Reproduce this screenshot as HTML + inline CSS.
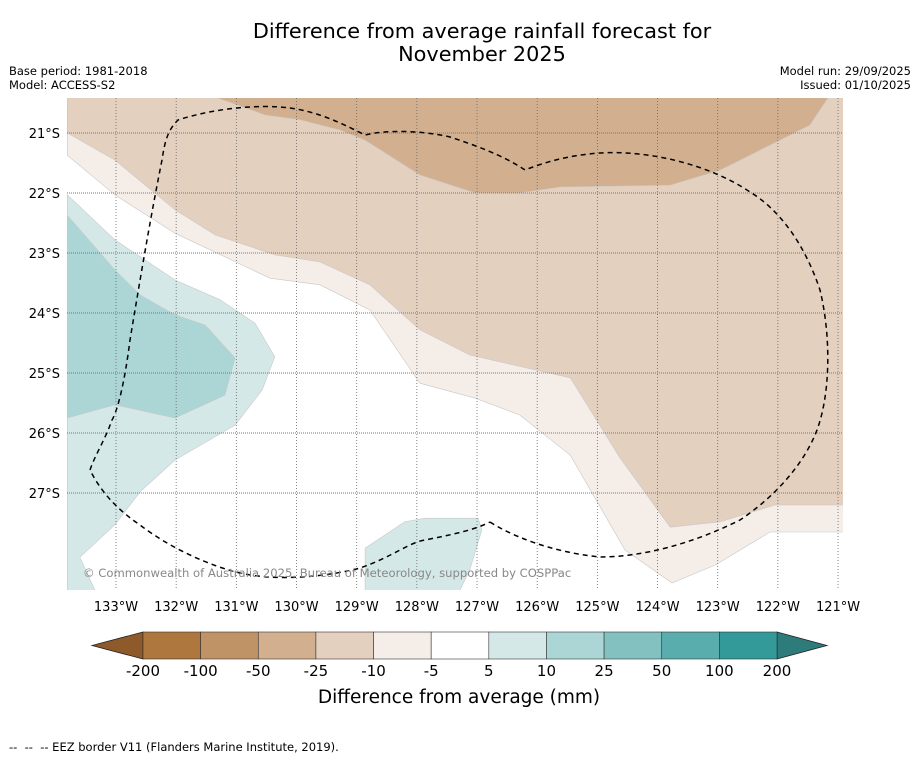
<!DOCTYPE html>
<html><head><meta charset="utf-8"><style>
body{margin:0;background:#fff;font-family:"DejaVu Sans","Liberation Sans",sans-serif;}
svg text{font-family:"DejaVu Sans","Liberation Sans",sans-serif;}
</style></head><body>
<svg id="chart" width="919" height="758" viewBox="0 0 919 758" xmlns="http://www.w3.org/2000/svg">
<rect width="919" height="758" fill="#fff"/>
<text x="482" y="38" font-size="20.8" text-anchor="middle">Difference from average rainfall forecast for</text>
<text x="482" y="61" font-size="20.8" text-anchor="middle">November 2025</text>
<text x="9" y="75" font-size="11.5">Base period: 1981-2018</text>
<text x="9" y="89" font-size="11.5">Model: ACCESS-S2</text>
<text x="911" y="75" font-size="11.5" text-anchor="end">Model run: 29/09/2025</text>
<text x="911" y="89" font-size="11.5" text-anchor="end">Issued: 01/10/2025</text>
<defs><clipPath id="plotclip"><rect x="67" y="98" width="776" height="492"/></clipPath></defs>
<g id="map" clip-path="url(#plotclip)"></g>
<g id="axes"></g>
<text x="83" y="577" font-size="11.6" fill="#888">© Commonwealth of Australia 2025, Bureau of Meteorology, supported by COSPPac</text>
<g id="cbar"></g>
<text x="459" y="703" font-size="18.5" text-anchor="middle">Difference from average (mm)</text>
<text x="9" y="751" font-size="11.5" xml:space="preserve">--  --  -- EEZ border V11 (Flanders Marine Institute, 2019).</text>
</svg>
<script>
const lonTicks=[133,132,131,130,129,128,127,126,125,124,123,122,121];
const latTicks=[21,22,23,24,25,26,27];
const cbarLabels=["-200","-100","-50","-25","-10","-5","5","10","25","50","100","200"];
const cbarColors=["#ae773e","#c09367","#d2b08f","#e3d0bf","#f5ede8","#ffffff","#d5e8e8","#acd6d6","#83c1c1","#5aadad","#339999"];
const veryLight=[[133.81,20.0],[133.81,21.37],[133.02,22.03],[132.02,22.67],[130.44,23.42],[129.61,23.53],[128.78,23.95],[127.95,25.17],[127.03,25.42],[126.29,25.70],[125.45,26.37],[124.54,27.95],[123.76,28.50],[123.04,28.20],[122.13,27.65],[120.9,27.65],[120.9,20.0]];
const lightBrown=[[133.81,20.0],[133.81,21.0],[133.02,21.45],[132.02,22.28],[131.35,22.70],[130.36,23.03],[129.61,23.15],[128.78,23.53],[127.95,24.28],[127.12,24.70],[125.45,25.08],[124.62,26.42],[123.79,27.57],[122.96,27.48],[122.05,27.20],[120.9,27.20],[120.9,20.0]];
const darkBrown=[[131.30,20.3],[131.30,20.42],[130.52,20.70],[129.94,20.78],[129.28,20.95],[128.86,21.12],[127.95,21.70],[127.03,22.0],[126.29,22.0],[125.62,21.90],[123.79,21.87],[122.96,21.62],[121.47,20.87],[121.17,20.42],[121.17,20.3]];
const lightTeal=[[133.81,22.03],[133.02,22.78],[132.02,23.45],[131.27,23.78],[130.69,24.17],[130.36,24.73],[130.57,25.28],[131.02,25.87],[132.02,26.45],[132.60,26.98],[133.02,27.53],[133.60,28.07],[133.27,28.8],[133.81,28.8]];
const lightTeal2=[[128.86,28.8],[128.86,27.92],[128.20,27.48],[127.86,27.42],[126.98,27.42],[126.92,27.62],[127.12,28.28],[127.37,28.8]];
const teal=[[133.81,22.37],[133.02,23.28],[132.60,23.70],[132.02,24.03],[131.52,24.20],[131.02,24.75],[131.19,25.37],[132.02,25.75],[133.02,25.53],[133.81,25.75]];
const NS="http://www.w3.org/2000/svg";
function xs(lon){return 116+(133-lon)*60.17;}
function ys(lat){return 133+(lat-21)*60;}
function el(tag,attrs,parent){const e=document.createElementNS(NS,tag);for(const k in attrs)e.setAttribute(k,attrs[k]);parent.appendChild(e);return e;}
const map=document.getElementById('map');
const axes=document.getElementById('axes');
function poly(arr,fill,name){
 const p=el('polygon',{points:arr.map(d=>xs(d[0]).toFixed(1)+','+ys(d[1]).toFixed(1)).join(' '),fill:fill,stroke:'#c8c8c8','stroke-width':0.6},map);
 
 
}
poly(veryLight,cbarColors[4],'contour-minus5-to-minus10');
poly(lightBrown,cbarColors[3],'contour-minus10-to-minus25');
poly(darkBrown,cbarColors[2],'contour-minus25-to-minus50');
poly(lightTeal,cbarColors[6],'contour-5-to-10');
poly(lightTeal2,cbarColors[6],'contour-5-to-10-south');
poly(teal,cbarColors[7],'contour-10-to-25');
lonTicks.forEach(l=>{
 const x=xs(l);
 const g=el('line',{x1:x,y1:98,x2:x,y2:590,stroke:'#666','stroke-width':0.8,'stroke-dasharray':'1,2'},axes);
 
 
 const t=el('text',{x:x,y:611,'font-size':13,'text-anchor':'middle'},axes);
 t.textContent=l+'°W';
 
 
});
latTicks.forEach(l=>{
 const y=ys(l);
 const g=el('line',{x1:67,y1:y,x2:843,y2:y,stroke:'#777','stroke-width':0.9,'stroke-dasharray':'1,1'},axes);
 
 
 const t=el('text',{x:60,y:y+5,'font-size':13,'text-anchor':'end'},axes);
 t.textContent=l+'°S';
 
 
});
const eez=el('path',{d:'M490,522 C510,535 550,552 600,557 C640,557 690,545 740,520 C770,500 800,470 815,435 C830,400 832,340 820,290 C805,245 780,210 750,192 C710,165 650,150 600,153 C570,155 545,162 525,170 C510,160 490,150 450,137 C420,130 385,130 365,135 C345,125 320,112 290,108 C260,104 215,108 178,120 C168,130 165,140 162,160 C150,220 140,280 130,340 C125,380 118,410 112,420 C105,440 95,455 90,470 C100,490 115,508 140,525 C170,548 210,566 240,573 C280,582 330,576 360,568 C390,558 410,542 425,540 C450,535 475,530 490,522',fill:'none',stroke:'#000','stroke-width':1.5,'stroke-dasharray':'5,4'},axes);


const cb=document.getElementById('cbar');
const x0=143,w=(777-143)/cbarColors.length;
const lt=el('polygon',{points:'92,645.5 143,632 143,659',fill:'#8f5a2a',stroke:'#222','stroke-width':0.8},cb);


const rt=el('polygon',{points:'777,632 827,645.5 777,659',fill:'#2d7b7b',stroke:'#222','stroke-width':0.8},cb);


cbarColors.forEach((c,i)=>{
 const r=el('rect',{x:x0+i*w,y:632,width:w,height:27,fill:c,stroke:'#333','stroke-width':0.6},cb);
 
 
});
cbarLabels.forEach((s,i)=>{
 const t=el('text',{x:x0+i*w,y:676,'font-size':15,'text-anchor':'middle'},cb);
 t.textContent=s;
 
 
});
</script>
</body></html>
